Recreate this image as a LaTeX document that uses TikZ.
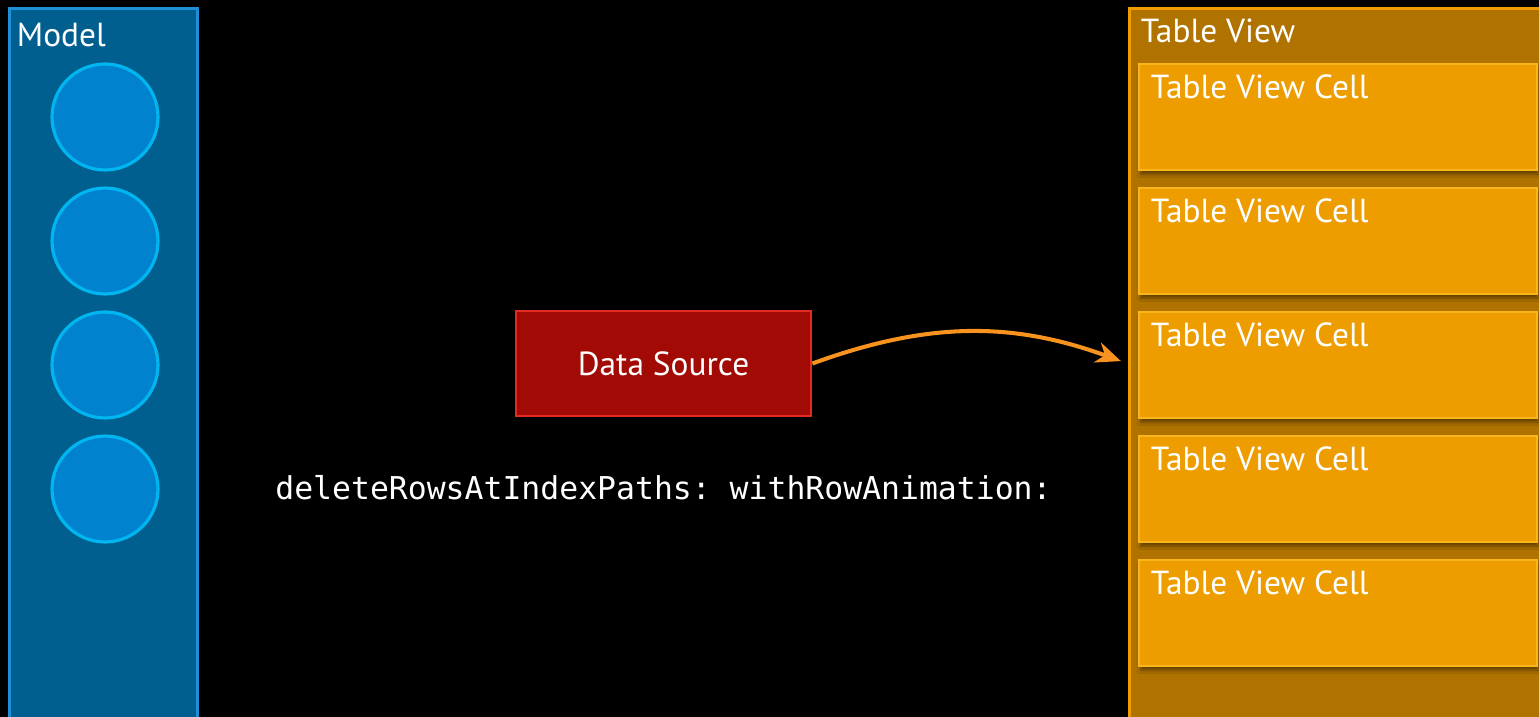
\documentclass[tikz,border=0pt]{standalone}
\usepackage{fontspec}
\setmainfont{PT Sans}
\setmonofont{DejaVu Sans Mono}
\usetikzlibrary{arrows.meta, positioning, shadows.blur}
\definecolor{cBg}{HTML}{000000}
\definecolor{cModelBg}{HTML}{005f8e}
\definecolor{cModelLine}{HTML}{1f8fd6}
\definecolor{cItem}{HTML}{0082cf}
\definecolor{cItemLine}{HTML}{00b6f0}
\definecolor{cTableBg}{HTML}{b07300}
\definecolor{cTableLine}{HTML}{f09c00}
\definecolor{cCell}{HTML}{ee9d00}
\definecolor{cCellLine}{HTML}{f8b51c}
\definecolor{cSrc}{HTML}{a20a05}
\definecolor{cSrcLine}{HTML}{e32b20}
\definecolor{cArrow}{HTML}{f7931e}
\tikzset{
  panel/.style 2 args={draw=#1, line width=1.7pt, fill=#2, inner sep=0pt},
  item/.style={circle, draw=cItemLine, line width=1.8pt, fill=cItem, minimum size=2.12cm, inner sep=0pt},
  cell/.style={draw=cCellLine, line width=1.6pt, fill=cCell, inner sep=0pt,
      minimum width=7.96cm, minimum height=2.12cm,
      blur shadow={shadow blur steps=5, shadow xshift=0.8pt, shadow yshift=-2.4pt, shadow opacity=45}},
  srcbox/.style={draw=cSrcLine, line width=1.6pt, fill=cSrc, text=white,
      minimum width=5.9cm, minimum height=2.1cm, font=\lbl},
  ttl/.style={anchor=base west, inner sep=0pt, text=white, font=\lbl},
  flowarrow/.style={-{Stealth[length=5mm,width=4.2mm,inset=1.6mm]}, draw=cArrow, line width=2.3pt},
}
\newcommand{\lbl}{\fontsize{19}{23}\selectfont}
\newcommand{\codefont}{\ttfamily\fontsize{17.9}{21}\selectfont}

\begin{document}
\begin{tikzpicture}[x=0.02cm, y=-0.02cm]
\fill[cBg] (0,0) rectangle (1539,717);
\useasboundingbox (0,0) rectangle (1539,717);

% ===================== Model =====================
\node[panel={cModelLine}{cModelBg}, minimum width=3.78cm, minimum height=14.44cm] (model) at (103.5,369) {};
\node[ttl] (modelTtl) at ([xshift=0.18cm,yshift=-0.8cm]model.north west) {Model};
\foreach \i/\y in {1/117, 2/241, 3/365, 4/489}
  \node[item] (obj\i) at (105,\y) {};

% ===================== Table View =====================
\node[panel={cTableLine}{cTableBg}, minimum width=8.42cm, minimum height=14.44cm] (tv) at (1339.5,369) {};
\node[ttl] (tvTtl) at ([xshift=0.26cm,yshift=-0.72cm]tv.north west) {Table View};
\foreach \i/\y in {1/117, 2/241, 3/365, 4/489, 5/613} {
  \node[cell] (cell\i) at (1338,\y) {};
  \node[ttl] (cellTtl\i) at ([xshift=0.26cm,yshift=-0.71cm]cell\i.north west) {Table View Cell};
}

% ===================== Data Source =====================
\node[srcbox] (ds) at (663.5,363.5) {Data Source};
\draw[flowarrow, shorten >=4pt] (ds.east) to[bend left=20] (tv.west|-ds.east);

\node[anchor=base west, inner sep=0pt, text=white, font=\codefont] (call) at (275,499)
     {deleteRowsAtIndexPaths: withRowAnimation:};

\end{tikzpicture}
\end{document}
